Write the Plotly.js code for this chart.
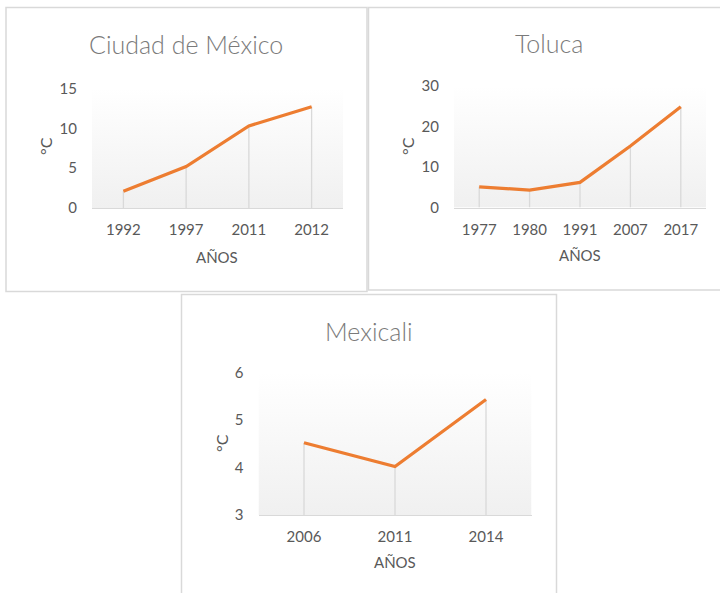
<!DOCTYPE html>
<html>
<head>
<meta charset="utf-8">
<script src="https://cdn.plot.ly/plotly-3.0.1.min.js"></script>
<style>html,body{margin:0;padding:0;background:#fff;}#chart{width:720px;height:593px;}</style>
</head>
<body>
<div id="chart"></div>
<script>
// ---- data ----
const cdmxYears = ['1992', '1997', '2011', '2012'];
const cdmxTemps = [2.1, 5.2, 10.3, 12.7];
const tolucaYears = ['1977', '1980', '1991', '2007', '2017'];
const tolucaTemps = [5.1, 4.3, 6.2, 15.2, 24.9];
const mexicaliYears = ['2006', '2011', '2014'];
const mexicaliTemps = [4.52, 4.02, 5.43];
const titles = ['Ciudad de México', 'Toluca', 'Mexicali'];
const xTitle = 'AÑOS';
const yTitle = '°C';
const yRanges = [[0, 15], [0, 30], [3, 6]];
const yDtick = [5, 10, 1];

// ---- styling ----
const W = 720, H = 593;
const px = v => v / W;
const py = v => 1 - v / H;
const FONT = 'Lato, "Open Sans", sans-serif';
const lineColor = '#ED7D31';
const dropColor = '#d9d9d9';
const textColor = '#595959';

const panels = [
  {x: cdmxYears, y: cdmxTemps, xd: [px(92), px(343)], yd: [py(208), py(88.5)],
   title: [186, 44], xt: [217, 257], yt: [45, 146]},
  {x: tolucaYears, y: tolucaTemps, xd: [px(454), px(706)], yd: [py(207.5), py(86)],
   title: [549, 43], xt: [580, 255], yt: [407, 146]},
  {x: mexicaliYears, y: mexicaliTemps, xd: [px(258.5), px(531.5)], yd: [py(515), py(372.5)],
   title: [369, 331], xt: [395, 562], yt: [221, 443]}
];

const gradSvg = 'data:image/svg+xml;utf8,' + encodeURIComponent(
  '<svg xmlns="http://www.w3.org/2000/svg" width="100" height="100" preserveAspectRatio="none">' +
  '<defs><linearGradient id="g" x1="0" y1="0" x2="0" y2="1">' +
  '<stop offset="0" stop-color="#ffffff"/><stop offset="1" stop-color="#f0f0f0"/></linearGradient></defs>' +
  '<rect width="100" height="100" fill="url(#g)"/></svg>');

const data = [];
const layout = {
  width: W, height: H,
  margin: {l: 0, r: 0, t: 0, b: 0},
  paper_bgcolor: '#ffffff',
  plot_bgcolor: 'rgba(0,0,0,0)',
  showlegend: false,
  font: {family: FONT, color: textColor, size: 15},
  annotations: [],
  shapes: [
    {type: 'rect', xref: 'paper', yref: 'paper', x0: px(6), x1: px(367), y0: py(291.5), y1: py(7.5),
     line: {color: dropColor, width: 1.5}, fillcolor: 'rgba(0,0,0,0)', layer: 'below'},
    {type: 'rect', xref: 'paper', yref: 'paper', x0: px(368.5), x1: px(724), y0: py(290), y1: py(7.5),
     line: {color: dropColor, width: 1.5}, fillcolor: 'rgba(0,0,0,0)', layer: 'below'},
    {type: 'rect', xref: 'paper', yref: 'paper', x0: px(181.5), x1: px(556.5), y0: py(600), y1: py(294.5),
     line: {color: dropColor, width: 1.5}, fillcolor: '#ffffff', layer: 'below'}
  ],
  images: []
};

panels.forEach((p, i) => {
  const n = i + 1;
  const xa = 'x' + (n === 1 ? '' : n), ya = 'y' + (n === 1 ? '' : n);
  const xk = 'xaxis' + (n === 1 ? '' : n), yk = 'yaxis' + (n === 1 ? '' : n);
  const ymin = yRanges[i][0];
  // drop lines
  data.push({
    type: 'scatter', mode: 'markers', x: p.x, y: p.y, xaxis: xa, yaxis: ya,
    marker: {size: 1, color: 'rgba(0,0,0,0)'}, hoverinfo: 'skip',
    error_y: {type: 'data', symmetric: false, array: p.y.map(() => 0),
              arrayminus: p.y.map(v => v - ymin), width: 0, color: dropColor, thickness: 1.3}
  });
  // line
  data.push({
    type: 'scatter', mode: 'lines', x: p.x, y: p.y, xaxis: xa, yaxis: ya,
    line: {color: lineColor, width: 3.2}
  });
  layout[xk] = {
    domain: p.xd, anchor: ya, type: 'category', range: [-0.5, p.x.length - 0.5],
    showgrid: false, zeroline: false, showline: true, linecolor: dropColor, linewidth: 1.3,
    ticks: 'outside', ticklen: 8, tickcolor: 'rgba(0,0,0,0)',
    tickfont: {family: FONT, size: 15, color: textColor}, fixedrange: true
  };
  layout[yk] = {
    domain: p.yd, anchor: xa, range: yRanges[i], dtick: yDtick[i], tick0: 0,
    showgrid: false, zeroline: false, showline: false,
    ticks: 'outside', ticklen: 11, tickcolor: 'rgba(0,0,0,0)',
    tickfont: {family: FONT, size: 15, color: textColor}, fixedrange: true
  };
  layout.images.push({
    source: gradSvg, xref: xa + ' domain', yref: ya + ' domain',
    x: 0, y: 1, sizex: 1, sizey: 1, sizing: 'stretch', xanchor: 'left', yanchor: 'top', layer: 'below'
  });
  layout.annotations.push(
    {text: titles[i], xref: 'paper', yref: 'paper', x: px(p.title[0]), y: py(p.title[1]),
     xanchor: 'center', yanchor: 'middle', showarrow: false,
     font: {family: FONT, size: 25, color: '#7a7a7a', weight: 300}},
    {text: xTitle, xref: 'paper', yref: 'paper', x: px(p.xt[0]), y: py(p.xt[1]),
     xanchor: 'center', yanchor: 'middle', showarrow: false,
     font: {family: FONT, size: 15, color: textColor}},
    {text: yTitle, xref: 'paper', yref: 'paper', x: px(p.yt[0]), y: py(p.yt[1]),
     xanchor: 'center', yanchor: 'middle', showarrow: false, textangle: -90,
     font: {family: FONT, size: 16, color: textColor}}
  );
});

Plotly.newPlot('chart', data, layout, {displayModeBar: false, staticPlot: true});
</script>
</body>
</html>
